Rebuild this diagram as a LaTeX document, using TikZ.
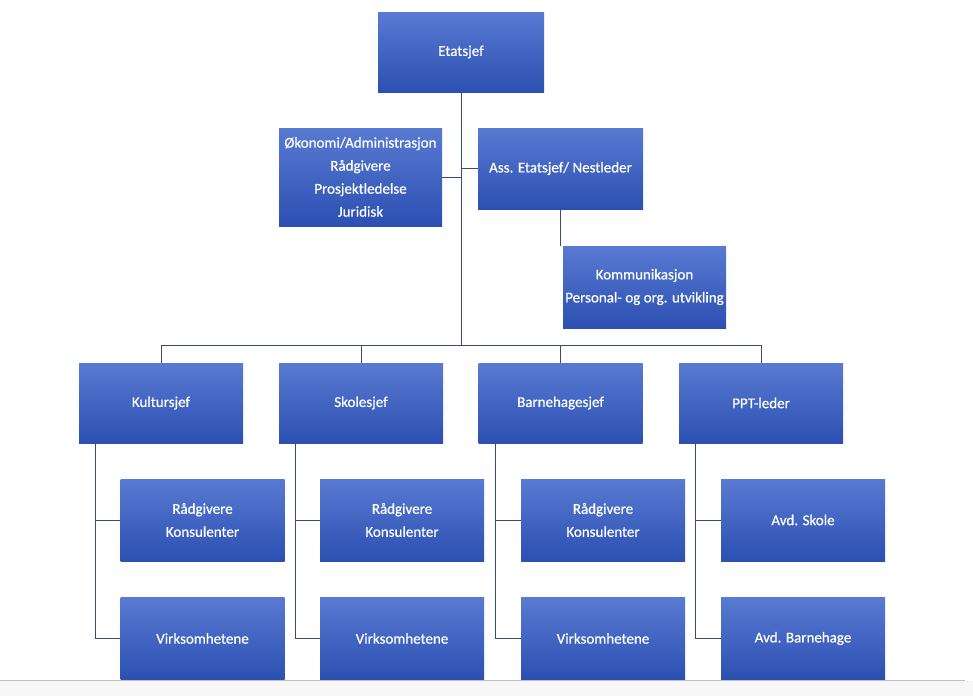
\documentclass[tikz,border=0pt]{standalone}
\usepackage{fontspec}
\setmainfont{Carlito}
\newfontfamily\boxfont[FakeBold=0.5]{Carlito}
\usetikzlibrary{positioning}

\definecolor{boxtop}{RGB}{88,122,210}
\definecolor{boxbot}{RGB}{44,80,178}
\definecolor{linkc}{RGB}{56,76,116}

\tikzset{
    unit/.style={rectangle, top color=boxtop, bottom color=boxbot, draw=none,
        text=white, align=center, minimum width=164pt, minimum height=81pt,
        inner sep=0pt, font=\boxfont\fontsize{15}{23}\selectfont},
    link/.style={draw=linkc, line width=1pt},
}

\begin{document}
\begin{tikzpicture}[x=1pt, y=-1pt]
    \useasboundingbox (0,0) rectangle (973,696);
    % bottom strip
    \fill[black!3] (0,681) rectangle (973,696);
    \draw[black!25, line width=0.8pt] (0,680.5) -- (965,680.5);

    % top
    \node[unit, minimum width=166pt, minimum height=80pt] (etat) at (461,52) {Etatsjef};
    \node[unit, minimum width=163pt, minimum height=98pt] (okon) at (360.5,177) {Økonomi/Administrasjon\\Rådgivere\\Prosjektledelse\\Juridisk};
    \node[unit, minimum width=165pt] (ass) at (560.5,168.5) {Ass. Etatsjef/ Nestleder};
    \node[unit, minimum width=163pt, minimum height=82pt] (komm) at (644.5,287) {Kommunikasjon\\Personal- og org. utvikling};

    % leaders
    \node[unit, minimum height=80pt] (kultur) at (161,403) {Kultursjef};
    \node[unit, minimum height=80pt] (skole) at (361,403) {Skolesjef};
    \node[unit, minimum height=80pt] (barn) at (560.5,403) {Barnehagesjef};
    \node[unit, minimum height=80pt] (ppt) at (761,403) {PPT-leder};

    % units under leaders
    \node[unit, minimum height=82pt] (radA) at (202.5,520) {Rådgivere\\Konsulenter};
    \node[unit, minimum height=82pt] (virkA) at (202.5,638.5) {Virksomhetene};
    \node[unit, minimum height=82pt] (radB) at (402,520) {Rådgivere\\Konsulenter};
    \node[unit, minimum height=82pt] (virkB) at (402,638.5) {Virksomhetene};
    \node[unit, minimum height=82pt] (radC) at (603,520) {Rådgivere\\Konsulenter};
    \node[unit, minimum height=82pt] (virkC) at (603,638.5) {Virksomhetene};
    \node[unit, minimum height=82pt] (avdS) at (803,520) {Avd. Skole};
    \node[unit, minimum height=82pt] (avdB) at (803,638.5) {Avd. Barnehage};

    % connectors
    \coordinate (hub) at (461,345);
    \draw[link] (etat.south) -- (hub);
    \draw[link] (okon.east) -- (okon.east -| etat.south);
    \draw[link] (ass.west) -- (ass.west -| etat.south);
    \draw[link] (ass.south) -- (ass.south |- komm.north);
    \draw[link] (hub) -| (kultur.north);
    \draw[link] (hub) -| (skole.north);
    \draw[link] (hub) -| (barn.north);
    \draw[link] (hub) -| (ppt.north);

    \draw[link] ([xshift=17pt]kultur.south west) |- (radA.west);
    \draw[link] ([xshift=17pt]kultur.south west) |- (virkA.west);
    \draw[link] ([xshift=17pt]skole.south west) |- (radB.west);
    \draw[link] ([xshift=17pt]skole.south west) |- (virkB.west);
    \draw[link] ([xshift=17pt]barn.south west) |- (radC.west);
    \draw[link] ([xshift=17pt]barn.south west) |- (virkC.west);
    \draw[link] ([xshift=17pt]ppt.south west) |- (avdS.west);
    \draw[link] ([xshift=17pt]ppt.south west) |- (avdB.west);
\end{tikzpicture}
\end{document}
